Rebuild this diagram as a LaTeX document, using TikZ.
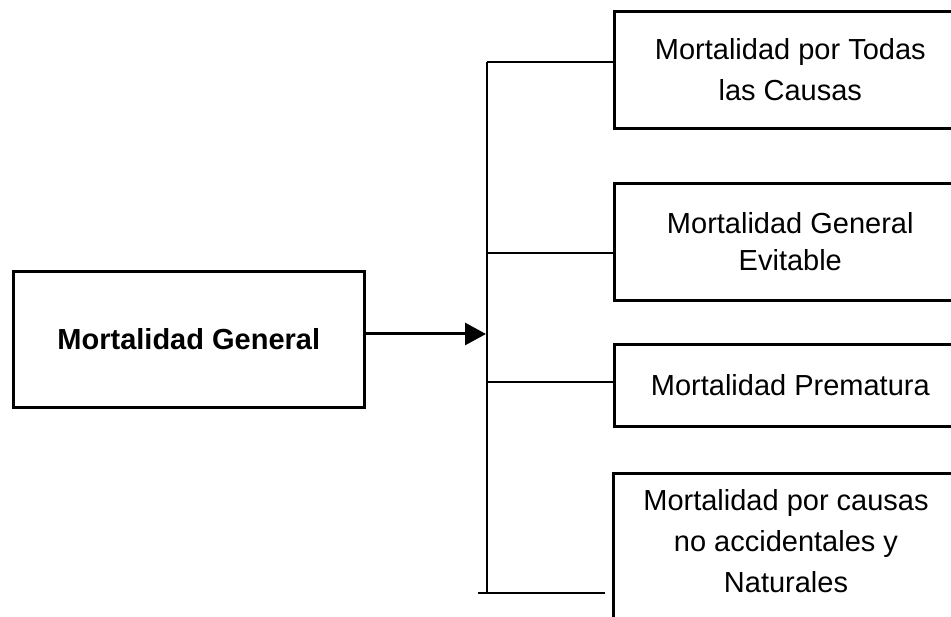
\documentclass[tikz,border=0pt]{standalone}
\usepackage{fontspec}
\setmainfont{Liberation Sans}
\usetikzlibrary{arrows.meta,positioning,calc}

\begin{document}
\begin{tikzpicture}[
    x=1pt, y=-1pt,
    >={Triangle[length=21pt,width=22pt]},
    box/.style={draw=black, line width=2.6pt, align=center, inner sep=0pt, minimum width=352pt, anchor=north west},
    boxtext/.style={font=\fontsize{29}{#1}\selectfont},
    link/.style={draw=black, line width=1.3pt},
    mainlink/.style={draw=black, line width=3pt, ->}
]
\useasboundingbox (0,0) rectangle (951,617);

% Left: main box
\node[box, minimum width=351pt, minimum height=136pt, font=\bfseries\fontsize{29}{34}\selectfont] (general) at (12,270) {Mortalidad General};

% Right: four boxes (cut off at the right edge)
\node[box, minimum height=117pt, boxtext=41] (todas) at (613,10) {Mortalidad por Todas\\las Causas};
\node[box, minimum height=117pt, boxtext=37] (evitable) at (613,182) {Mortalidad General\\Evitable};
\node[box, minimum height=82pt, boxtext=34] (prematura) at (613,343) {Mortalidad Prematura};
\node[box, minimum height=180pt] (naturales) at (612,472) {};
\node[anchor=north, inner sep=0pt, align=center, boxtext=41] (naturalestext) at (786,489) {Mortalidad por causas\\no accidentales y\\Naturales};

% Bus line
\coordinate (arrowtip) at (486,334);
\coordinate (bustop) at (487,62);
\coordinate (busevitable) at (487,253);
\coordinate (busprematura) at (487,382);
\coordinate (busbottom) at (487,593);
\coordinate (lowstart) at (478,593);
\coordinate (lowend) at (605,593);

\draw[mainlink] (general.east |- arrowtip) -- (arrowtip);
\draw[link] (bustop) -- (busbottom);
\draw[link] (bustop) -- (bustop -| todas.west);
\draw[link] (busevitable) -- (busevitable -| evitable.west);
\draw[link] (busprematura) -- (busprematura -| prematura.west);
\draw[link] (lowstart) -- (lowend);

\end{tikzpicture}
\end{document}
